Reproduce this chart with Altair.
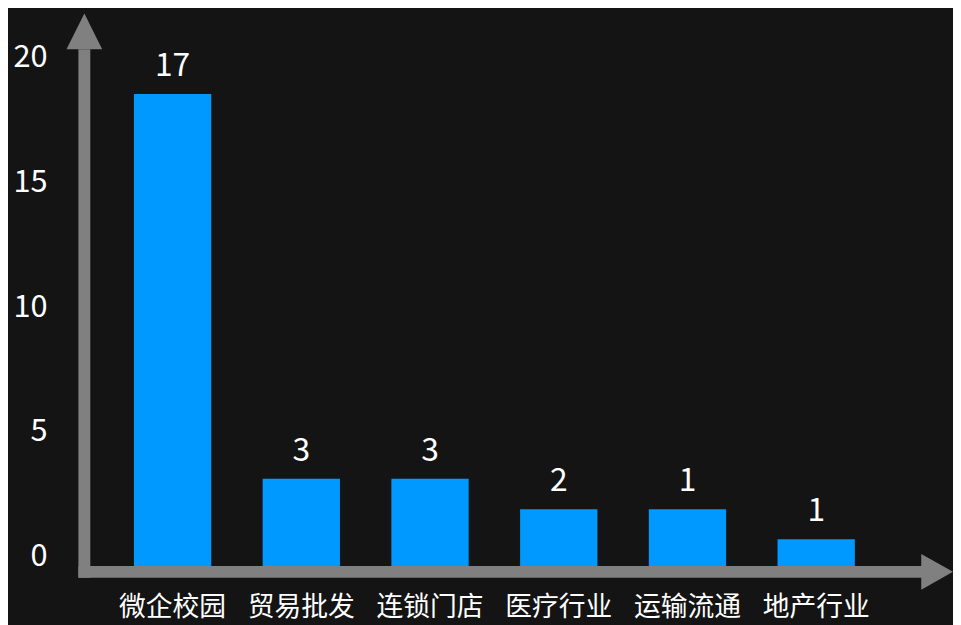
import altair as alt
import pandas as pd

# Data
categories = ["微企校园", "贸易批发", "连锁门店", "医疗行业", "运输流通", "地产行业"]
bar_heights = [17, 3.14, 3.14, 2.04, 2.04, 0.96]   # drawn heights
value_labels = ["17", "3", "3", "2", "1", "1"]       # printed numbers
y_ticks = [0, 5, 10, 15, 20]

FONT = "Noto Sans CJK SC"
GRAY = "#808080"
BLUE = "#0099FF"

df = pd.DataFrame({"cat": categories, "h": bar_heights, "label": value_labels})
ticks_df = pd.DataFrame({"v": y_ticks, "t": [str(v) for v in y_ticks]})
one = pd.DataFrame({"a": [0]})

xenc = alt.X(
    "cat:N",
    sort=None,
    title=None,
    scale=alt.Scale(range=[55, 782], paddingInner=0.3995, paddingOuter=0),
    axis=alt.Axis(labelAngle=0, ticks=False, domain=False, labelPadding=29,
                  labelFont=FONT, labelFontSize=27, labelColor="white", grid=False),
)
yA = alt.Scale(domain=[0, 20], nice=False, zero=False)

bars = alt.Chart(df).mark_bar(color=BLUE).encode(
    x=xenc,
    y=alt.Y("h:Q", scale=yA, axis=None),
)
vals = alt.Chart(df).mark_text(
    dy=-18, baseline="alphabetic", fontSize=32, color="white", font=FONT
).encode(
    x=xenc,
    y=alt.Y("h:Q", scale=yA, axis=None),
    text="label:N",
)

tick_labels = alt.Chart(ticks_df).mark_text(
    align="right", baseline="middle", fontSize=31, color="white", font=FONT
).encode(
    x=alt.value(-32),
    y=alt.Y("v:Q", scale=alt.Scale(domain=[-0.355, 21.92], nice=False, zero=False), axis=None),
    text="t:N",
)

vline = alt.Chart(one).mark_rule(color=GRAY, strokeWidth=12).encode(
    x=alt.value(5), y=alt.value(39), y2=alt.value(572)
)
hline = alt.Chart(one).mark_rule(color=GRAY, strokeWidth=12).encode(
    x=alt.value(-1), x2=alt.value(850), y=alt.value(566)
)
up_arrow = alt.Chart(one).mark_point(
    shape="M0,-1L1,1L-1,1Z", filled=True, size=1296, color=GRAY, opacity=1, strokeWidth=0
).encode(x=alt.value(5), y=alt.value(21))
right_arrow = alt.Chart(one).mark_point(
    shape="M-0.89,-1L0.89,0L-0.89,1Z", filled=True, size=1296, color=GRAY, opacity=1, strokeWidth=0
).encode(x=alt.value(865), y=alt.value(566))

chart = alt.layer(
    bars, vals, tick_labels, vline, hline, up_arrow, right_arrow
).resolve_scale(y="independent").properties(
    width=881,
    height=560,
    autosize=alt.AutoSizeParams(type="none"),
    padding={"left": 72, "top": 0, "right": 0, "bottom": 57},
    background="#141414",
).configure_view(stroke=None)

chart.save("out.html", embed_options={"renderer": "svg", "actions": False})
